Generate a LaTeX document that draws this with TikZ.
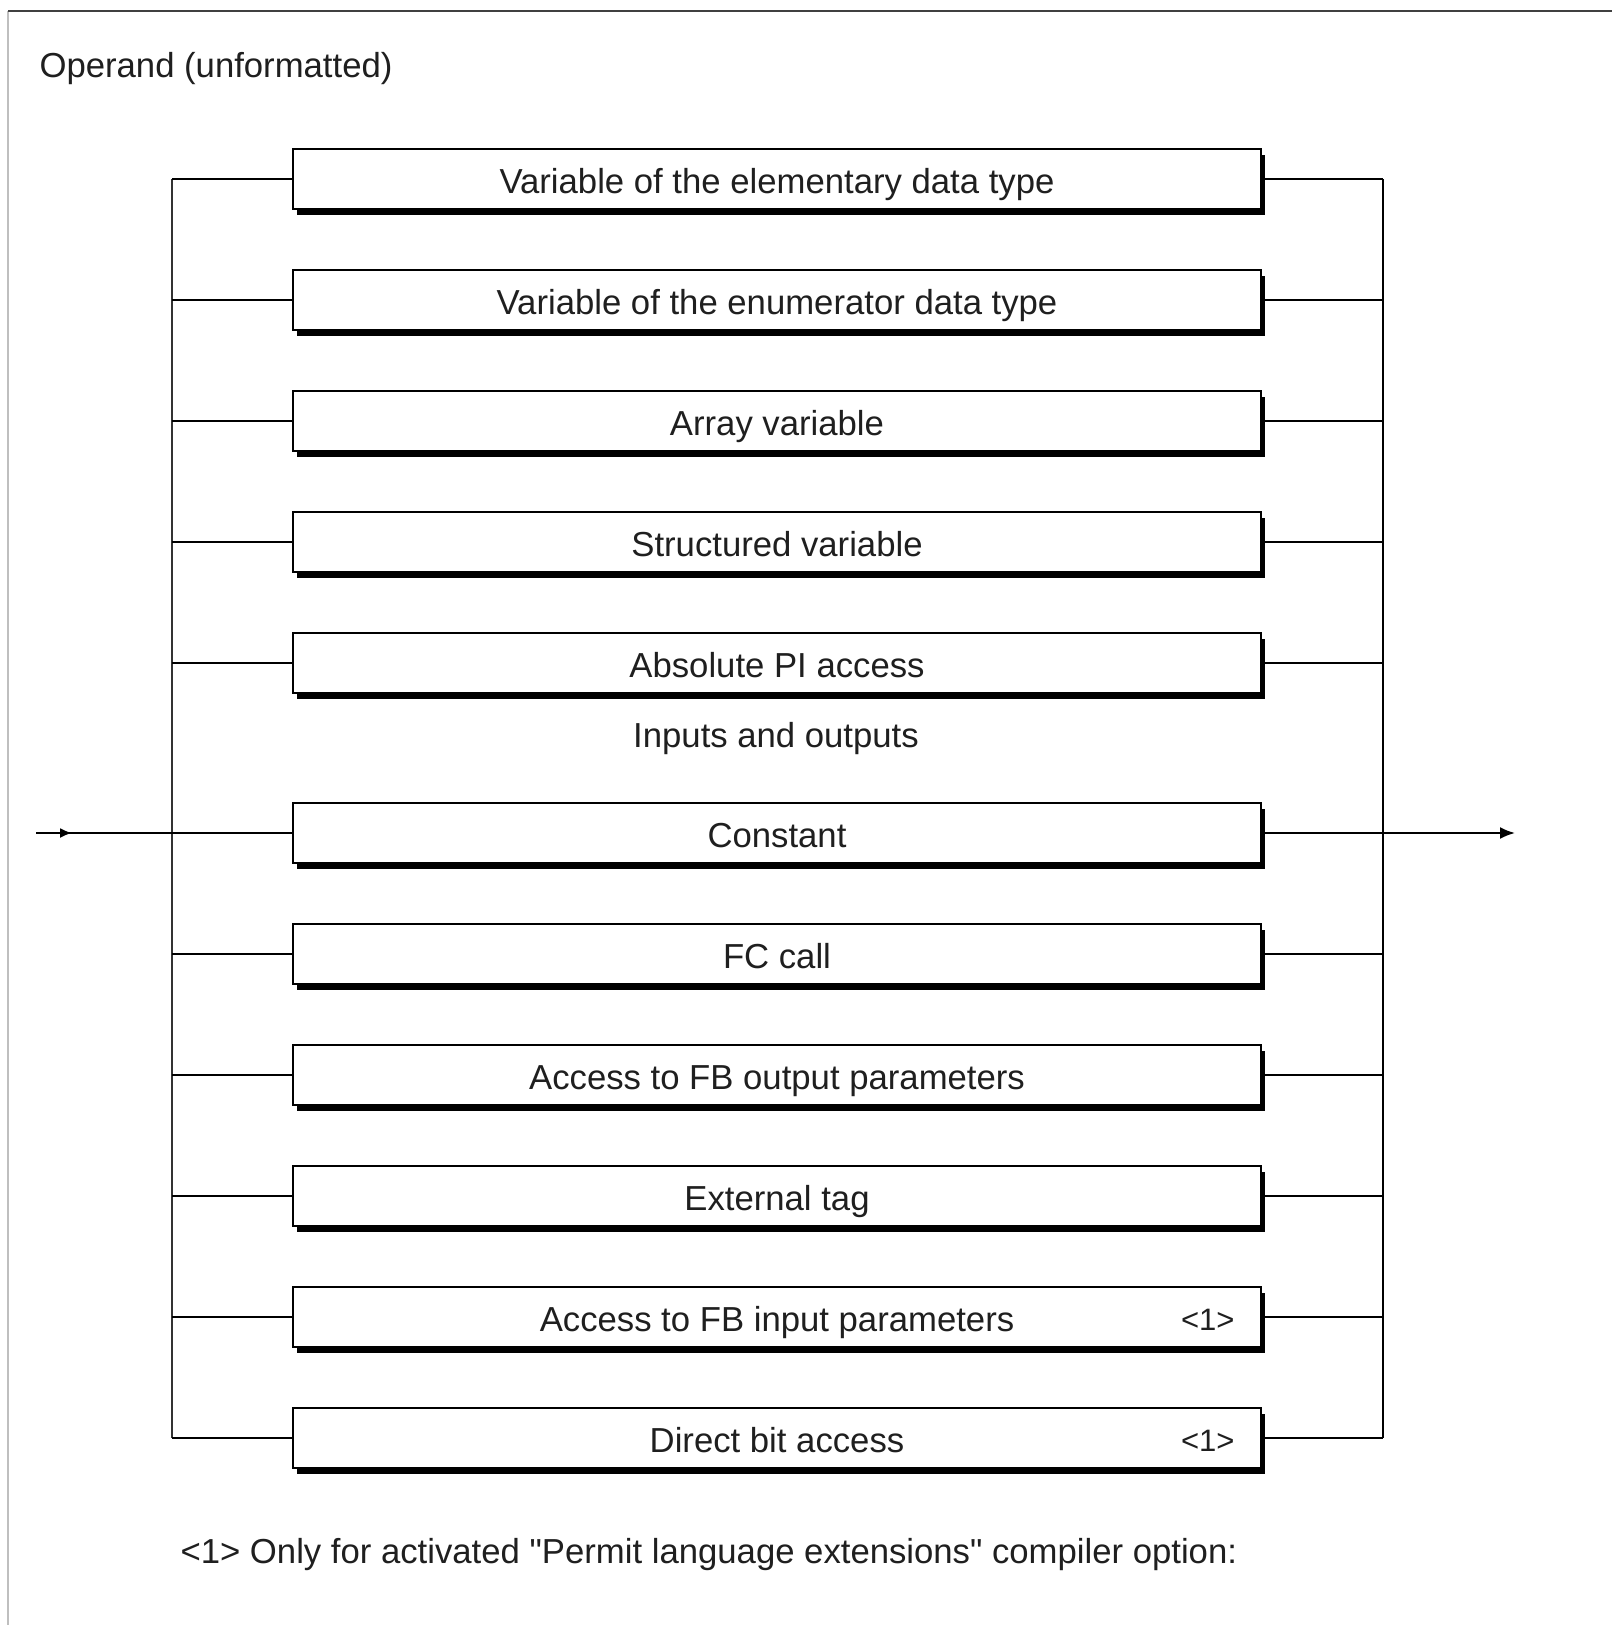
\documentclass[tikz,border=0pt]{standalone}
\usepackage{fontspec}
% plain family: straight quotation marks stay straight
\newfontfamily\diagfont{Liberation Sans}
\usetikzlibrary{shadows,arrows.meta,decorations.markings}

\begin{document}
\begin{tikzpicture}[x=1pt,y=-1pt,
  every node/.style={font=\diagfont\fontsize{34.7}{40}\selectfont, text=black!88},
  opbox/.style={draw=black, line width=2pt, fill=white,
    minimum width=968pt, minimum height=60pt, inner sep=0pt,
    text height=28pt, text depth=0pt,
    drop shadow={shadow xshift=4pt, shadow yshift=-6pt, opacity=1, fill=black}},
  wire/.style={line width=2pt, black},
  bus/.style={line width=2.6pt, black!80},
  tag/.style={anchor=base east, font=\diagfont\fontsize{31}{36}\selectfont}
]
\useasboundingbox (0,0) rectangle (1612,1625);
\fill[white] (0,0) rectangle (1612,1625);

% outer frame
\draw[line width=2pt, black!25] (8,1625) -- (8,11);
\draw[line width=2.5pt, black!75] (8,11) -- (1612,11);

% heading
\node[anchor=base west] (title) at (36,77) {Operand (unformatted)};

% bus coordinates
\coordinate (lt) at (172,179);
\coordinate (lb) at (172,1438);
\coordinate (rt) at (1383,179);
\coordinate (rb) at (1383,1438);
\coordinate (in) at (36,833);
\coordinate (out) at (1515,833);

% alternatives
\node[opbox] (b1)  at (777,179)  {Variable of the elementary data type};
\node[opbox] (b2)  at (777,300)  {Variable of the enumerator data type};
\node[opbox] (b3)  at (777,421)  {Array variable};
\node[opbox] (b4)  at (777,542)  {Structured variable};
\node[opbox] (b5)  at (777,663)  {Absolute PI access};
\node[opbox] (b6)  at (777,833)  {Constant};
\node[opbox] (b7)  at (777,954)  {FC call};
\node[opbox] (b8)  at (777,1075) {Access to FB output parameters};
\node[opbox] (b9)  at (777,1196) {External tag};
\node[opbox] (b10) at (777,1317) {Access to FB input parameters};
\node[opbox] (b11) at (777,1438) {Direct bit access};

\node[anchor=base] (io) at (776,747) {Inputs and outputs};

\node[tag] (t10) at (1238,1330) {<1>};
\node[tag] (t11) at (1238,1451) {<1>};

% branch lines
\draw[bus] (lt) -- (lb);
\draw[wire] (rt) -- (rb);
\foreach \i in {1,2,3,4,5,7,8,9,10,11} {
  \draw[wire] (b\i.west -| lt) -- (b\i.west);
  \draw[wire] (b\i.east) -- (b\i.east -| rt);
}

% entry and exit
\draw[wire, decoration={markings,
    mark=at position 36pt with {\arrow{Latex[length=12pt,width=10pt]}}},
    postaction=decorate] (in) -- (b6.west);
\draw[wire, -{Latex[length=15pt,width=12pt]}] (b6.east) -- (out);

% footnote
\node[anchor=base west] (note) at (177,1563)
  {<1> Only for activated "Permit language extensions" compiler option:};
\end{tikzpicture}
\end{document}
